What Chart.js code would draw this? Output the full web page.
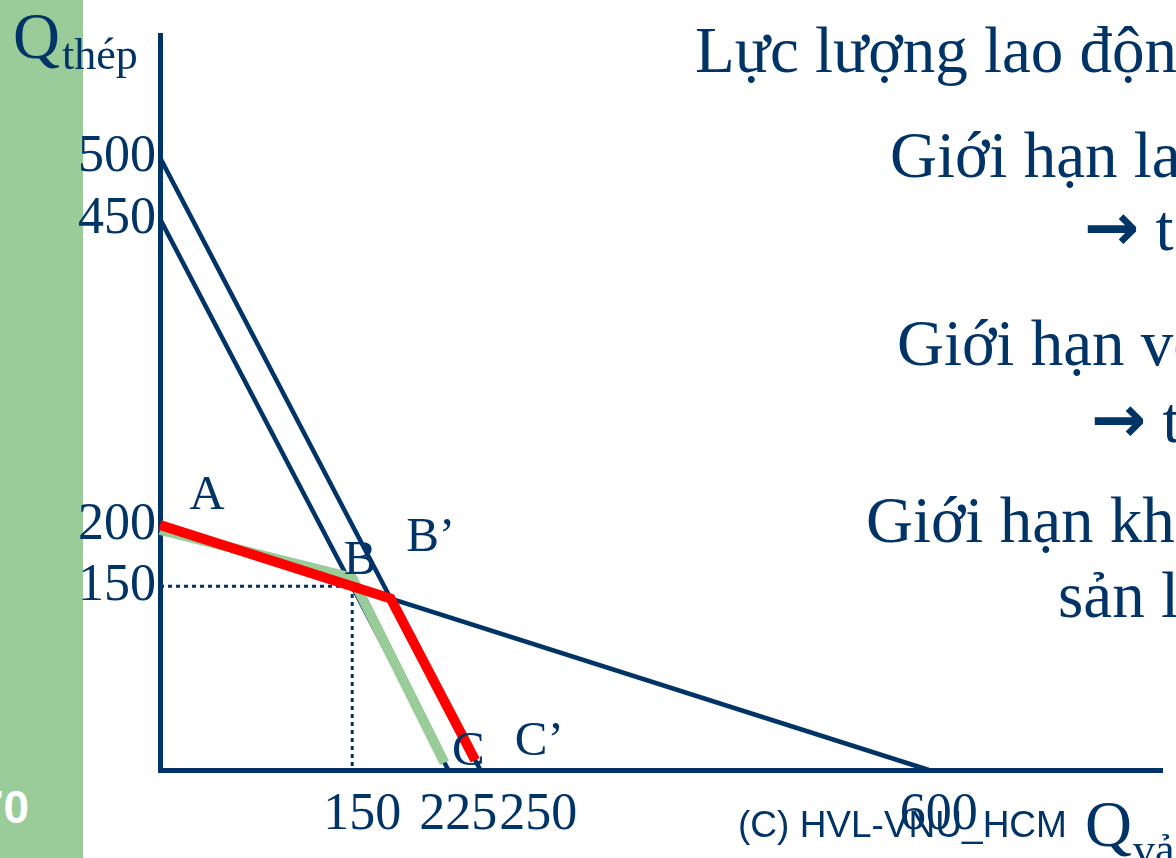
<!DOCTYPE html>
<html>
<head>
<meta charset="utf-8">
<script src="https://cdn.jsdelivr.net/npm/chart.js@4.4.1/dist/chart.umd.min.js"></script>
<style>
  html, body { margin:0; padding:0; }
  body { width:1176px; height:858px; overflow:hidden; position:relative; background:#ffffff; }
  #bar { position:absolute; left:0; top:0; width:83px; height:858px; background:#99CC99; }
  #c { position:absolute; left:0; top:0; }
  .t { position:absolute; white-space:nowrap; line-height:1; color:#003366; font-family:"Liberation Serif","Times New Roman",serif; }
  .big { font-size:65px; }
  .sub { font-size:44px; }
  .arr { font-family:"DejaVu Sans",sans-serif; font-weight:bold; font-size:66px; line-height:0; }
  .cr { font-family:"Liberation Sans",Arial,sans-serif; font-size:37px; }
  .pg { font-family:"Liberation Sans",Arial,sans-serif; font-weight:bold; font-size:46px; color:#ffffff; }
</style>
</head>
<body>
<div id="bar"></div>
<div class="t pg" style="left:-22px; top:784px;">70</div>
<canvas id="c" width="1176" height="858"></canvas>

<div class="t big" style="left:13px; top:4px;">Q</div>
<div class="t sub" style="left:62px; top:33px;">thép</div>

<div class="t big" style="left:695px; top:18px;">Lực lượng lao động</div>
<div class="t big" style="left:890px; top:123px;">Giới hạn lao động</div>
<div class="t big" style="left:1084px; top:196px;"><span class="arr">→</span> t</div>
<div class="t big" style="left:897px; top:311px;">Giới hạn vốn</div>
<div class="t big" style="left:1091px; top:388px;"><span class="arr">→</span> t</div>
<div class="t big" style="left:866px; top:488px;">Giới hạn khả năng</div>
<div class="t big" style="left:1058px; top:563px;">sản lượng</div>

<div class="t cr" style="left:738px; top:806px;">(C) HVL-VNU_HCM</div>
<div class="t big" style="left:1085px; top:792px;">Q</div>
<div class="t sub" style="left:1133px; top:828px;">vải</div>

<script>
// ---- data ----
const xTickValues = [150, 225, 250, 600];
const yTickValues = [150, 200, 450, 500];

// labour constraint (original): 450 steel or 225 cloth
const labourX = [0, 225];
const labourY = [450, 0];
// labour constraint (after labour force grows): 500 steel or 250 cloth
const labourNewX = [0, 250];
const labourNewY = [500, 0];
// capital constraint: 200 steel or 600 cloth
const capitalX = [0, 600];
const capitalY = [200, 0];
// production possibility frontier before (green) A-B-C
const ppfBeforeX = [0, 150, 222];
const ppfBeforeY = [196, 157, 6];
// production possibility frontier after (red) A-B'-C'
const ppfAfterX = [0, 180, 246];
const ppfAfterY = [200, 140, 8];
// dotted guide through B
const guideX = [0, 150, 150];
const guideY = [150, 150, 0];
// point names
const pointNames = ['A', 'B', 'B’', 'C', 'C’'];
const pointX = [0, 150, 180, 225, 250];
const pointY = [200, 150, 140, 0, 0];

const NAVY = '#003366';
const SERIF = '"Liberation Serif","Times New Roman",serif';

function pts(xs, ys) { return xs.map((x, i) => ({ x: x, y: ys[i] })); }

// label offsets (style only, in pixels, relative to the anchored data point)
const labelOffsets = [[47, -29], [8, -25], [40, -60], [20, -18], [59, -28]];

const customText = {
  id: 'customText',
  afterDatasetsDraw(chart) {
    const ctx = chart.ctx;
    const xs = chart.scales.x, ys = chart.scales.y;
    ctx.save();
    ctx.fillStyle = NAVY;
    // point names
    ctx.font = '49px ' + SERIF;
    ctx.textAlign = 'center';
    ctx.textBaseline = 'middle';
    pointNames.forEach((n, i) => {
      const px = xs.getPixelForValue(pointX[i]) + labelOffsets[i][0];
      const py = ys.getPixelForValue(pointY[i]) + labelOffsets[i][1];
      ctx.fillText(n, px, py);
    });
    // x tick labels, shifted right and kept from overlapping
    ctx.font = '52px ' + SERIF;
    ctx.textAlign = 'left';
    ctx.textBaseline = 'alphabetic';
    let prevRight = -Infinity;
    xTickValues.forEach(v => {
      const s = String(v);
      const w = ctx.measureText(s).width;
      let left = xs.getPixelForValue(v) + 10 - w / 2;
      if (left < prevRight + 2) left = prevRight + 2;
      ctx.fillText(s, left, chart.chartArea.bottom + 59);
      prevRight = left + w;
    });
    ctx.restore();
  }
};

new Chart(document.getElementById('c'), {
  type: 'scatter',
  data: {
    datasets: [
      { label: 'PPF mới', data: pts(ppfAfterX, ppfAfterY), showLine: true, borderColor: '#FF0000', borderWidth: 10, pointRadius: 0, clip: false, borderJoinStyle: 'miter' },
      { label: 'PPF cũ', data: pts(ppfBeforeX, ppfBeforeY), showLine: true, borderColor: '#99CC99', borderWidth: 10, pointRadius: 0, clip: false, borderJoinStyle: 'miter' },
      { label: 'guide', data: pts(guideX, guideY), showLine: true, borderColor: NAVY, borderWidth: 3, borderDash: [4, 4], pointRadius: 0, clip: false },
      { label: 'Giới hạn lao động', data: pts(labourX, labourY), showLine: true, borderColor: NAVY, borderWidth: 4.5, pointRadius: 0, clip: false },
      { label: 'Giới hạn lao động mới', data: pts(labourNewX, labourNewY), showLine: true, borderColor: NAVY, borderWidth: 4.5, pointRadius: 0, clip: false },
      { label: 'Giới hạn vốn', data: pts(capitalX, capitalY), showLine: true, borderColor: NAVY, borderWidth: 4.5, pointRadius: 0, clip: false }
    ]
  },
  options: {
    responsive: false,
    devicePixelRatio: 1,
    animation: false,
    events: [],
    layout: { padding: { top: 35, right: 14, left: 0, bottom: 0 } },
    plugins: { legend: { display: false }, tooltip: { enabled: false } },
    scales: {
      x: {
        type: 'linear', min: 0, max: 782,
        grid: { display: false, drawTicks: false },
        border: { display: true, color: NAVY, width: 5 },
        ticks: { display: false },
        afterBuildTicks: a => { a.ticks = xTickValues.map(v => ({ value: v })); },
        afterFit: s => { s.height = 88; }
      },
      y: {
        type: 'linear', min: 0, max: 600,
        grid: { display: false, drawTicks: false },
        border: { display: true, color: NAVY, width: 5 },
        ticks: { color: NAVY, font: { family: SERIF, size: 52 }, padding: 4, autoSkip: false, callback: v => String(v) },
        afterBuildTicks: a => { a.ticks = yTickValues.map(v => ({ value: v })); },
        afterFit: s => { s.width = 160; }
      }
    }
  },
  plugins: [customText]
});
</script>
</body>
</html>
